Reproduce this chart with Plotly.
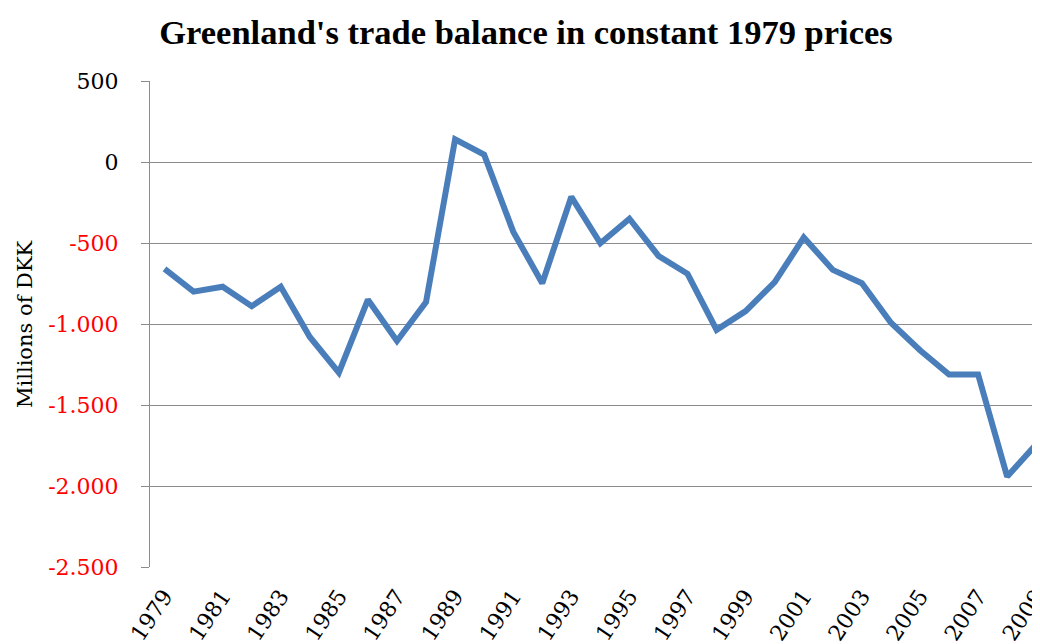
import plotly.graph_objects as go

years = list(range(1979, 2010))
balance = [-660, -800, -770, -890, -770, -1080, -1300, -850, -1105, -865,
           140, 45, -430, -748, -215, -502, -350, -580, -690, -1036,
           -920, -742, -466, -666, -748, -992, -1162, -1312, -1312, -1942, -1743]

y_ticks = [500, 0, -500, -1000, -1500, -2000, -2500]
y_tick_labels = ["500", "0", "-500", "-1.000", "-1.500", "-2.000", "-2.500"]
x_ticks = list(range(1979, 2010, 2))

title_text = "Greenland's trade balance in constant 1979 prices"
y_title = "Millions of DKK"

def colored(v, s):
    return s if v >= 0 else '<span style="color:#FF0000">' + s + '</span>'

fig = go.Figure()
fig.add_trace(go.Scatter(x=years, y=balance, mode="lines",
                         line=dict(color="#4A7EBB", width=6),
                         hoverinfo="x+y"))

# page body has an 8px margin; the figure is offset by (8, 8)
OFF = 8
W, H = 1040 - OFF, 644 - OFF
L, R, T, B = 150 - OFF, 0, 81 - OFF, 644 - 567

fig.update_layout(
    width=W, height=H,
    margin=dict(l=L, r=R, t=T, b=B, autoexpand=False),
    paper_bgcolor="white", plot_bgcolor="white",
    showlegend=False,
    font=dict(family="DejaVu Serif", color="black"),
    title=dict(text="<b>" + title_text + "</b>", x=(526 - OFF) / W, xanchor="center",
               xref="container", y=1 - (32 - OFF) / H, yanchor="middle", yref="container",
               font=dict(family="Liberation Serif", size=34.5, color="black")),
    xaxis=dict(range=[1978.5, 2009.13], tickmode="array", tickvals=x_ticks,
               ticktext=[str(v) for v in x_ticks], tickangle=-56, automargin=False,
               showgrid=False, zeroline=False, showline=False,
               ticks="", ticklabelstandoff=11, ticklabeloverflow="allow",
               tickfont=dict(size=22, color="black", family="DejaVu Serif")),
    yaxis=dict(range=[-2500, 500], tickmode="array", tickvals=y_ticks, automargin=False,
               ticktext=[colored(v, s) for v, s in zip(y_ticks, y_tick_labels)],
               showgrid=True, gridcolor="#8C8C8C", gridwidth=1,
               zeroline=False, showline=True, linecolor="#8C8C8C", linewidth=1,
               ticks="outside", ticklen=8, tickcolor="#8C8C8C", ticklabelstandoff=18,
               tickfont=dict(size=22, color="black", family="DejaVu Serif")),
    annotations=[dict(text=y_title, textangle=-90, xref="paper", yref="paper",
                      x=-(150 - 25) / (W - L - R), y=0.5, xanchor="center", yanchor="middle",
                      showarrow=False, font=dict(size=21, family="DejaVu Serif", color="black"))],
)

fig.write_html("out.html")
